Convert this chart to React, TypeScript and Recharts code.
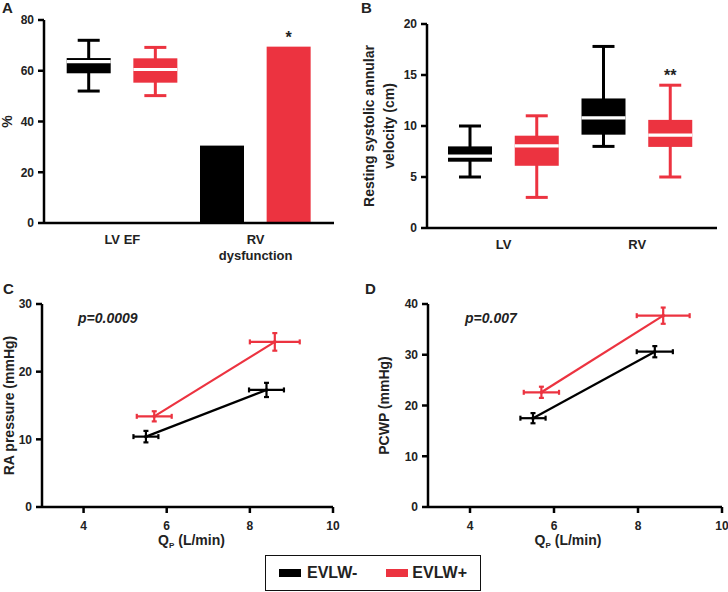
import React from "react";
import {
  BarChart,
  Bar,
  XAxis,
  YAxis,
  LabelList,
  ScatterChart,
  Scatter,
  ErrorBar,
} from "recharts";

const BLACK = "#000000";
const RED = "#EC3340";
const INK = "#222222";
const FONT = '"Liberation Sans", Arial, sans-serif';

const seriesNames = ["EVLW-", "EVLW+"];
const seriesColors = [BLACK, RED];

// Panel A: LV EF box plots + RV dysfunction bars (%)
const aGroups = ["LV EF", "RV dysfunction"];
const aGroupLines = [["LV EF"], ["RV", "dysfunction"]];
const lvefMin = [52, 50.2];
const lvefQ1 = [59, 55.3];
const lvefMedian = [63.6, 60.5];
const lvefQ3 = [65, 64.9];
const lvefMax = [72, 69.2];
const rvDysfunction = [30.5, 69.5];
const rvDysfunctionSig = ["", "*"];

// Panel B: resting systolic annular velocity (cm)
const bGroups = ["LV", "RV"];
const lvVelMin = [5, 3];
const lvVelQ1 = [6.5, 6.1];
const lvVelMedian = [7.05, 8.05];
const lvVelQ3 = [8, 9.05];
const lvVelMax = [10, 11];
const rvVelMin = [8, 5];
const rvVelQ1 = [9.15, 7.95];
const rvVelMedian = [10.8, 9.1];
const rvVelQ3 = [12.7, 10.6];
const rvVelMax = [17.8, 14];
const rvVelSig = ["", "**"];

// Panel C: RA pressure vs Qp
const cNegQp = [5.5, 8.4];
const cNegQpErr = [0.3, 0.42];
const cNegRa = [10.4, 17.3];
const cNegRaErr = [0.85, 1.05];
const cPosQp = [5.7, 8.6];
const cPosQpErr = [0.42, 0.6];
const cPosRa = [13.4, 24.4];
const cPosRaErr = [0.75, 1.3];

// Panel D: PCWP vs Qp
const dNegQp = [5.5, 8.4];
const dNegQpErr = [0.3, 0.43];
const dNegPcwp = [17.5, 30.6];
const dNegPcwpErr = [1.0, 1.1];
const dPosQp = [5.7, 8.6];
const dPosQpErr = [0.42, 0.63];
const dPosPcwp = [22.6, 37.7];
const dPosPcwpErr = [1.1, 1.6];

const boxRow = (group: string, s: number, min: number, q1: number, med: number, q3: number, max: number, sig = "") => ({
  key: `${group}|${seriesNames[s]}`,
  color: seriesColors[s],
  box: true,
  min,
  q1,
  med,
  q3,
  max,
  range: [min, max],
  sig,
});

const barRow = (group: string, s: number, value: number, sig = "") => ({
  key: `${group}|${seriesNames[s]}`,
  color: seriesColors[s],
  box: false,
  range: [0, value],
  sig,
});

const aRows = [
  ...seriesNames.map((_, s) => boxRow(aGroups[0], s, lvefMin[s], lvefQ1[s], lvefMedian[s], lvefQ3[s], lvefMax[s])),
  ...seriesNames.map((_, s) => barRow(aGroups[1], s, rvDysfunction[s], rvDysfunctionSig[s])),
];

const bRows = [
  ...seriesNames.map((_, s) => boxRow(bGroups[0], s, lvVelMin[s], lvVelQ1[s], lvVelMedian[s], lvVelQ3[s], lvVelMax[s])),
  ...seriesNames.map((_, s) =>
    boxRow(bGroups[1], s, rvVelMin[s], rvVelQ1[s], rvVelMedian[s], rvVelQ3[s], rvVelMax[s], rvVelSig[s])
  ),
];

const points = (qp: number[], qpErr: number[], val: number[], valErr: number[]) =>
  qp.map((q, i) => ({ qp: q, qpErr: qpErr[i], val: val[i], valErr: valErr[i] }));

const cNeg = points(cNegQp, cNegQpErr, cNegRa, cNegRaErr);
const cPos = points(cPosQp, cPosQpErr, cPosRa, cPosRaErr);
const dNeg = points(dNegQp, dNegQpErr, dNegPcwp, dNegPcwpErr);
const dPos = points(dPosQp, dPosQpErr, dPosPcwp, dPosPcwpErr);

function BoxShape(props: any) {
  const { x, y, width, height, payload } = props;
  const c = payload.color;
  if (!payload.box) return <rect x={x} y={y} width={width} height={height} fill={c} />;
  const span = payload.max - payload.min;
  const py = (v: number) => y + (height * (payload.max - v)) / span;
  const cx = x + width / 2;
  const cap = width / 4;
  return (
    <g>
      <line x1={cx} x2={cx} y1={py(payload.max)} y2={py(payload.min)} stroke={c} strokeWidth={3} />
      <line x1={cx - cap} x2={cx + cap} y1={py(payload.max)} y2={py(payload.max)} stroke={c} strokeWidth={3} />
      <line x1={cx - cap} x2={cx + cap} y1={py(payload.min)} y2={py(payload.min)} stroke={c} strokeWidth={3} />
      <rect x={x} y={py(payload.q3)} width={width} height={py(payload.q1) - py(payload.q3)} fill={c} />
      <line x1={x} x2={x + width} y1={py(payload.med)} y2={py(payload.med)} stroke="#fff" strokeWidth={3.2} />
    </g>
  );
}

const groupTick = (lines: string[][]) => (props: any) => {
  const { x, y, index } = props;
  if (index % 2 === 1) return <g />;
  const cx = x + 33.3;
  return (
    <text x={cx} y={y + 21} textAnchor="middle" fill={INK} fontSize={13} fontWeight="bold" fontFamily={FONT}>
      {lines[index / 2].map((l, i) => (
        <tspan key={l} x={cx} dy={i === 0 ? 0 : 16}>
          {l}
        </tspan>
      ))}
    </text>
  );
};

function YTitle(props: any) {
  const { viewBox, lines, dx } = props;
  const cx = viewBox.x + dx;
  const cy = viewBox.y + viewBox.height / 2;
  return (
    <text
      transform={`rotate(-90 ${cx} ${cy})`}
      x={cx}
      y={cy}
      textAnchor="middle"
      dominantBaseline="central"
      fill={INK}
      fontSize={14}
      fontWeight="bold"
      fontFamily={FONT}
    >
      {lines.map((l: string, i: number) => (
        <tspan key={l} x={cx} dy={i === 0 ? -((lines.length - 1) * 20) / 2 : 20}>
          {l}
        </tspan>
      ))}
    </text>
  );
}

function QpTitle(props: any) {
  const { viewBox, dx } = props;
  const cx = viewBox.x + viewBox.width / 2 + dx;
  return (
    <text x={cx} y={viewBox.y + 38} textAnchor="middle" fill={INK} fontSize={14} fontWeight="bold" fontFamily={FONT}>
      <tspan>Q</tspan>
      <tspan fontSize={8} dy={3}>
        P
      </tspan>
      <tspan dy={-3}> (L/min)</tspan>
    </text>
  );
}

const tickStyle = { fill: INK, fontSize: 12, fontWeight: "bold", fontFamily: FONT };
const axisLine = { stroke: BLACK, strokeWidth: 2.5 };

const Dot = (color: string) => (props: any) => <circle cx={props.cx} cy={props.cy} r={1.8} fill={color} />;

function abs(left: number, top: number): React.CSSProperties {
  return { position: "absolute", left, top };
}

const letter: React.CSSProperties = {
  position: "absolute",
  fontFamily: FONT,
  fontWeight: "bold",
  fontSize: 15,
  lineHeight: 1,
  color: INK,
};

const pStyle: React.CSSProperties = {
  position: "absolute",
  fontFamily: FONT,
  fontWeight: "bold",
  fontStyle: "italic",
  fontSize: 14,
  lineHeight: 1,
  color: INK,
};

export default function App() {
  return (
    <div style={{ position: "absolute", left: 0, top: 0, width: 728, height: 592, background: "#fff", fontFamily: FONT }}>
      <div style={abs(0, 0)}>
        <BarChart width={345} height={270} data={aRows} margin={{ top: 20, right: 11, bottom: 7, left: 0 }}>
          <XAxis
            dataKey="key"
            height={40}
            padding={{ left: 11.7, right: 11.7 }}
            axisLine={axisLine}
            tickLine={false}
            tickSize={0}
            tickMargin={0}
            interval={0}
            tick={groupTick(aGroupLines)}
          />
          <YAxis
            width={44}
            domain={[0, 80]}
            ticks={[0, 20, 40, 60, 80]}
            axisLine={axisLine}
            tickLine={axisLine}
            tickMargin={4}
            tick={tickStyle}
            label={<YTitle lines={["%"]} dx={7} />}
          />
          <Bar dataKey="range" barSize={44} shape={BoxShape} isAnimationActive={false}>
            <LabelList dataKey="sig" position="top" offset={3.5} fill={INK} fontSize={16} fontWeight="bold" />
          </Bar>
        </BarChart>
      </div>

      <div style={abs(360, 0)}>
        <BarChart width={368} height={270} data={bRows} margin={{ top: 24, right: 11, bottom: 6, left: 0 }}>
          <XAxis
            dataKey="key"
            height={36}
            padding={{ left: 10, right: 13 }}
            axisLine={axisLine}
            tickLine={false}
            tickSize={0}
            tickMargin={0}
            interval={0}
            tick={groupTick(bGroups.map((g) => [g]))}
          />
          <YAxis
            width={67}
            domain={[0, 20]}
            ticks={[0, 5, 10, 15, 20]}
            axisLine={axisLine}
            tickLine={axisLine}
            tickMargin={4}
            tick={tickStyle}
            label={<YTitle lines={["Resting systolic annular", "velocity (cm)"]} dx={19} />}
          />
          <Bar dataKey="range" barSize={44} shape={BoxShape} isAnimationActive={false}>
            <LabelList dataKey="sig" position="top" offset={4} fill={INK} fontSize={16} fontWeight="bold" />
          </Bar>
        </BarChart>
      </div>

      <div style={abs(0, 270)}>
        <ScatterChart width={345} height={280} margin={{ top: 34, right: 12, bottom: 7, left: 0 }}>
          <XAxis
            type="number"
            dataKey="qp"
            domain={[3, 10]}
            ticks={[4, 6, 8, 10]}
            height={36}
            axisLine={axisLine}
            tickLine={axisLine}
            tickMargin={8}
            tick={tickStyle}
            label={<QpTitle dx={4} />}
          />
          <YAxis
            type="number"
            dataKey="val"
            width={42}
            domain={[0, 30]}
            ticks={[0, 10, 20, 30]}
            axisLine={axisLine}
            tickLine={axisLine}
            tickMargin={4}
            tick={tickStyle}
            label={<YTitle lines={["RA pressure (mmHg)"]} dx={9} />}
          />
          <Scatter data={cNeg} fill={BLACK} line={{ stroke: BLACK, strokeWidth: 2.2 }} shape={Dot(BLACK)} isAnimationActive={false}>
            <ErrorBar dataKey="qpErr" direction="x" width={2.5} stroke={BLACK} strokeWidth={2.2} />
            <ErrorBar dataKey="valErr" direction="y" width={2.5} stroke={BLACK} strokeWidth={2.2} />
          </Scatter>
          <Scatter data={cPos} fill={RED} line={{ stroke: RED, strokeWidth: 2.2 }} shape={Dot(RED)} isAnimationActive={false}>
            <ErrorBar dataKey="qpErr" direction="x" width={2.5} stroke={RED} strokeWidth={2.2} />
            <ErrorBar dataKey="valErr" direction="y" width={2.5} stroke={RED} strokeWidth={2.2} />
          </Scatter>
        </ScatterChart>
      </div>

      <div style={abs(360, 270)}>
        <ScatterChart width={368} height={280} margin={{ top: 34, right: 6, bottom: 7, left: 0 }}>
          <XAxis
            type="number"
            dataKey="qp"
            domain={[3, 10]}
            ticks={[4, 6, 8, 10]}
            height={36}
            axisLine={axisLine}
            tickLine={axisLine}
            tickMargin={8}
            tick={tickStyle}
            label={<QpTitle dx={-7} />}
          />
          <YAxis
            type="number"
            dataKey="val"
            width={68}
            domain={[0, 40]}
            ticks={[0, 10, 20, 30, 40]}
            axisLine={axisLine}
            tickLine={axisLine}
            tickMargin={4}
            tick={tickStyle}
            label={<YTitle lines={["PCWP (mmHg)"]} dx={24} />}
          />
          <Scatter data={dNeg} fill={BLACK} line={{ stroke: BLACK, strokeWidth: 2.2 }} shape={Dot(BLACK)} isAnimationActive={false}>
            <ErrorBar dataKey="qpErr" direction="x" width={2.5} stroke={BLACK} strokeWidth={2.2} />
            <ErrorBar dataKey="valErr" direction="y" width={2.5} stroke={BLACK} strokeWidth={2.2} />
          </Scatter>
          <Scatter data={dPos} fill={RED} line={{ stroke: RED, strokeWidth: 2.2 }} shape={Dot(RED)} isAnimationActive={false}>
            <ErrorBar dataKey="qpErr" direction="x" width={2.5} stroke={RED} strokeWidth={2.2} />
            <ErrorBar dataKey="valErr" direction="y" width={2.5} stroke={RED} strokeWidth={2.2} />
          </Scatter>
        </ScatterChart>
      </div>

      <div style={{ ...letter, left: 2, top: 0 }}>A</div>
      <div style={{ ...letter, left: 361, top: 0 }}>B</div>
      <div style={{ ...letter, left: 3, top: 281 }}>C</div>
      <div style={{ ...letter, left: 365, top: 281 }}>D</div>

      <div style={{ ...pStyle, left: 78, top: 311 }}>p=0.0009</div>
      <div style={{ ...pStyle, left: 465, top: 311 }}>p=0.007</div>

      <div
        style={{
          position: "absolute",
          left: 265,
          top: 555,
          width: 216,
          height: 36,
          boxSizing: "border-box",
          border: "1.5px solid #111",
          display: "flex",
          alignItems: "center",
          paddingLeft: 13,
          fontSize: 16,
          fontWeight: "bold",
          color: INK,
        }}
      >
        {seriesNames.map((name, i) => (
          <div key={name} style={{ display: "flex", alignItems: "center", marginRight: i === 0 ? 29 : 0 }}>
            <span style={{ display: "inline-block", width: 22, height: 8, background: seriesColors[i], marginRight: i === 0 ? 6 : 4 }} />
            <span>{name}</span>
          </div>
        ))}
      </div>
    </div>
  );
}
